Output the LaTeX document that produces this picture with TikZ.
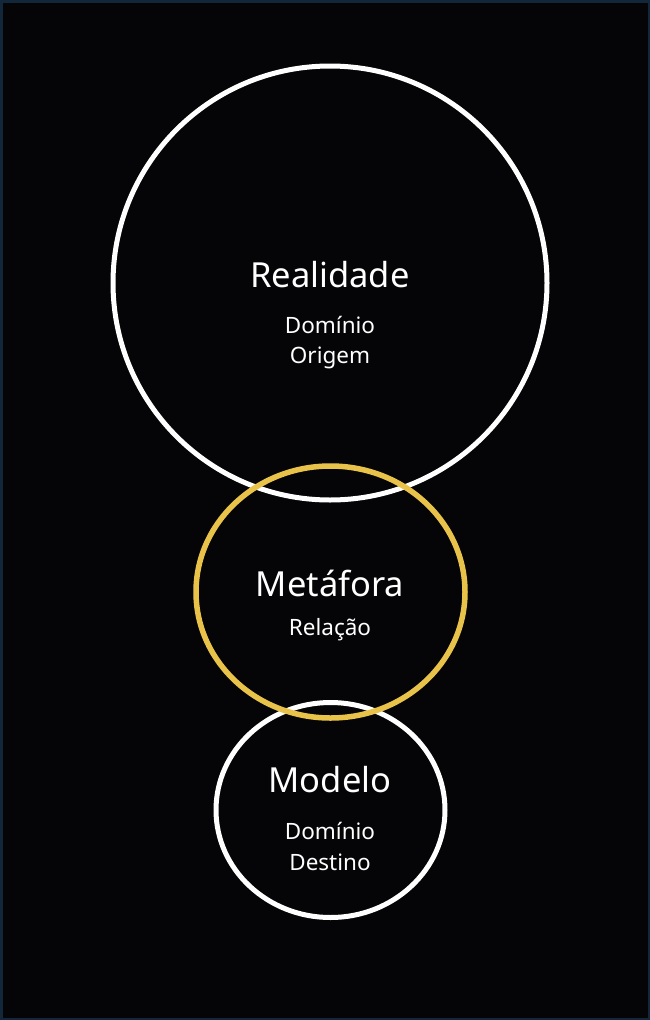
\documentclass[tikz,border=0pt]{standalone}
\usepackage{fontspec}
\setmainfont{Noto Sans}
\usetikzlibrary{shapes.geometric}
\definecolor{bg}{HTML}{050507}
\definecolor{frame}{HTML}{12283A}
\definecolor{gold}{HTML}{E9C24A}
\tikzset{
  ring/.style={ellipse, draw=white, line width=5pt, inner sep=0pt},
  goldring/.style={ellipse, draw=gold, line width=5.5pt, inner sep=0pt},
  title/.style={text=white, anchor=base, font=\fontsize{34.5}{34}\selectfont, inner sep=0pt},
  sub/.style={text=white, anchor=base, font=\fontsize{22.5}{30}\selectfont, inner sep=0pt, align=center},
}
\begin{document}
\begin{tikzpicture}[x=1pt,y=-1pt]
\path[fill=bg, draw=frame, line width=2.5pt] (1.25,1.25) rectangle (648.75,1018.75);
\useasboundingbox (0,0) rectangle (650,1020);
\node[ring, minimum width=434pt, minimum height=434pt] (real) at (330,283) {};
\node[ring, minimum width=229pt, minimum height=215pt] (mod) at (330.5,810) {};
\node[goldring, minimum width=269pt, minimum height=252pt] (met) at (330.5,592) {};
\node[title] (t1) at (330,287) {Realidade};
\node[sub] (s1) at (330,333) {Domínio};
\node[sub] (s1b) at (330,363) {Origem};
\node[title] (t2) at (330,596) {Metáfora};
\node[sub] (s2) at (330,635) {Relação};
\node[title] (t3) at (330,792) {Modelo};
\node[sub] (s3) at (330,839) {Domínio};
\node[sub] (s3b) at (330,870) {Destino};
\end{tikzpicture}
\end{document}
